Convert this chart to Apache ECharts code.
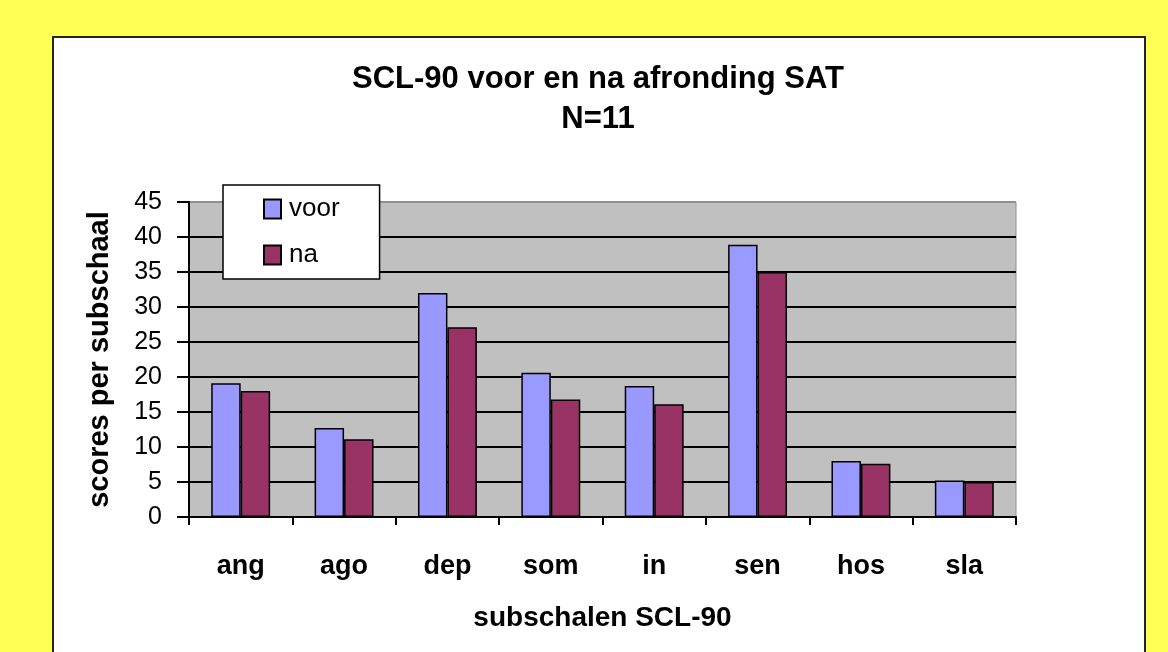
<!DOCTYPE html>
<html>
<head>
<meta charset="utf-8">
<script src="https://cdn.jsdelivr.net/npm/echarts@6/dist/echarts.min.js"></script>
<style>
    html, body { margin: 0; padding: 0; background: #FFFF55; overflow: hidden; }
    #box {
        position: absolute; left: 52px; top: 36px; width: 1094px; height: 700px;
        background: #fff; border: 2px solid #222; box-sizing: border-box;
    }
    #chart { position: absolute; left: 0; top: 0; width: 1168px; height: 652px; }
</style>
</head>
<body>
<div id="box"></div>
<div id="chart"></div>
<script>
var categories = ['ang', 'ago', 'dep', 'som', 'in', 'sen', 'hos', 'sla'];
var voorData = [19.1, 12.7, 32.0, 20.6, 18.7, 38.9, 8.0, 5.2];
var naData = [18.0, 11.1, 27.1, 16.8, 16.1, 35.0, 7.6, 5.0];

var font = "'Liberation Sans', Arial, sans-serif";

var myChart = echarts.init(document.getElementById('chart'));

// gridlines black, top edge (45) grey like the plot border
var splitColors = ['#000', '#000', '#000', '#000', '#000', '#000', '#000', '#000', '#000', '#909090'];

var option = {
    backgroundColor: 'transparent',
    animation: false,
    graphic: [{
        type: 'text',
        x: 598,
        y: 59,
        style: {
            text: 'SCL-90 voor en na afronding SAT\nN=11',
            x: 0,
            y: 0,
            textAlign: 'center',
            font: 'bold 31px ' + font,
            lineHeight: 40,
            fill: '#000'
        }
    }],
    legend: {
        orient: 'vertical',
        left: 223,
        top: 185,
        backgroundColor: '#fff',
        borderColor: '#000',
        borderWidth: 1.5,
        borderRadius: 0,
        padding: [11, 40, 11, 40],
        icon: 'rect',
        itemWidth: 17,
        itemHeight: 19,
        itemGap: 20,
        textStyle: { fontFamily: font, fontSize: 26, color: '#000', padding: [0, 0, 0, 3] },
        data: ['voor', 'na']
    },
    grid: {
        left: 189,
        top: 202,
        right: 152,
        bottom: 135,
        show: true,
        backgroundColor: '#C0C0C0',
        borderColor: '#909090',
        borderWidth: 1
    },
    xAxis: {
        type: 'category',
        data: categories,
        name: 'subschalen SCL-90',
        nameLocation: 'middle',
        nameGap: 87,
        nameTextStyle: { fontFamily: font, fontSize: 28, fontWeight: 'bold', color: '#000' },
        axisLine: { lineStyle: { color: '#000', width: 2 } },
        axisTick: { show: true, length: 8, lineStyle: { color: '#000', width: 2 } },
        axisLabel: { margin: 36, fontFamily: font, fontSize: 27, fontWeight: 'bold', color: '#000' }
    },
    yAxis: {
        type: 'value',
        min: 0,
        max: 45,
        interval: 5,
        name: 'scores per subschaal',
        nameLocation: 'middle',
        nameGap: 75,
        nameRotate: 90,
        nameTextStyle: { fontFamily: font, fontSize: 29, fontWeight: 'bold', color: '#000' },
        axisLine: { show: true, lineStyle: { color: '#000', width: 2 } },
        axisTick: { show: true, length: 12, lineStyle: { color: '#000', width: 2 } },
        axisLabel: { margin: 27, fontFamily: font, fontSize: 25, color: '#000' },
        splitLine: { show: true, lineStyle: { color: splitColors, width: 2 } }
    },
    series: [{
        name: 'voor',
        type: 'bar',
        data: voorData,
        barGap: '0%',
        barCategoryGap: '43%',
        itemStyle: { color: '#9999FF', borderColor: '#000', borderWidth: 1.5 }
    }, {
        name: 'na',
        type: 'bar',
        data: naData,
        itemStyle: { color: '#993366', borderColor: '#000', borderWidth: 1.5 }
    }]
};

myChart.setOption(option);
</script>
</body>
</html>
